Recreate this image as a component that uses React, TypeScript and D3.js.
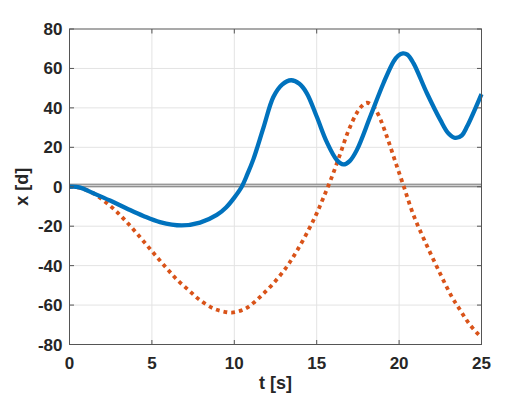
import React from "react"
import * as d3 from "d3"

const width = 532
const height = 399
const margin = { top: 29, right: 50.5, bottom: 54.5, left: 69.5 }

// solid blue series, x(t)
const blueT = [0, 0.6, 1.45, 2.46, 3.47, 4.48, 5.49, 6.8, 7.92, 8.94, 9.5, 10.0, 10.45, 10.8, 11.16, 11.77, 12.37, 12.9, 13.45, 13.95, 14.4, 15.0, 15.6, 16.22, 16.62, 17.0, 17.44, 18.25, 19.05, 19.66, 19.95, 20.23, 20.5, 20.87, 21.69, 22.5, 23.0, 23.4, 23.8, 24.12, 25]
const blueV = [0, -0.3, -3.3, -7, -11, -14.8, -17.9, -19.6, -18.2, -14.3, -10.5, -5.5, 0, 6.5, 14, 30, 45.5, 51.8, 54, 52.2, 47.4, 35.6, 22.9, 13.6, 11.3, 13, 18.7, 35.6, 52.5, 63.5, 66.5, 67.6, 67, 62.7, 47.4, 33.9, 27, 24.8, 26, 30.5, 47]

// dotted orange series
const orangeT = [0, 0.6, 1.45, 2.16, 2.87, 3.47, 4.08, 4.69, 5.29, 5.9, 6.51, 7.22, 7.92, 8.73, 9.3, 9.85, 10.4, 10.86, 11.57, 12.37, 13.19, 13.8, 14.5, 15.0, 15.41, 15.92, 16.42, 16.93, 17.44, 17.75, 18.04, 18.4, 18.75, 19.26, 19.76, 20.27, 20.87, 21.58, 22.39, 23.2, 23.71, 24.21, 24.82, 25]
const orangeV = [0, -0.5, -3.3, -7.6, -12.7, -17.9, -23.6, -29.6, -35.5, -41.4, -47, -52.4, -57.5, -61.7, -63.2, -63.8, -62.8, -60.9, -55.8, -49, -40.5, -32.5, -22, -13.5, -5.5, 5, 16.5, 28.5, 37.5, 41, 42.6, 41, 36.4, 25.4, 13, 0.5, -14.3, -27.9, -42.3, -55.8, -62.6, -69, -74.9, -76]

const xTicks = [0, 5, 10, 15, 20, 25]
const yTicks = [-80, -60, -40, -20, 0, 20, 40, 60, 80]
const refLines = [0, 1.3]

const font = "'Liberation Sans', Arial, Helvetica, sans-serif"

const App = () => {
  const x = d3.scaleLinear().domain([0, 25]).range([margin.left, width - margin.right])
  const y = d3.scaleLinear().domain([-80, 80]).range([height - margin.bottom, margin.top])

  const line = d3
    .line<[number, number]>()
    .x((d) => x(d[0]))
    .y((d) => y(d[1]))
    .curve(d3.curveCatmullRom.alpha(0.5))

  const blue = d3.zip(blueT, blueV) as [number, number][]
  const orange = d3.zip(orangeT, orangeV) as [number, number][]

  const x0 = x.range()[0]
  const x1 = x.range()[1]
  const y0 = y.range()[0]
  const y1 = y.range()[1]
  const tick = 4.5

  return (
    <svg
      width={width}
      height={height}
      style={{ position: "absolute", left: 0, top: 0, background: "#fff" }}
    >
      {/* grid */}
      {xTicks.slice(1, -1).map((t) => (
        <line key={"gx" + t} x1={x(t)} x2={x(t)} y1={y0} y2={y1} stroke="#e3e3e3" strokeWidth={1} />
      ))}
      {yTicks.slice(1, -1).map((t) => (
        <line key={"gy" + t} x1={x0} x2={x1} y1={y(t)} y2={y(t)} stroke="#e3e3e3" strokeWidth={1} />
      ))}
      <rect x={x0} width={x1 - x0} y={y(refLines[1])} height={y(refLines[0]) - y(refLines[1])} fill="#cfcfcf" />
      {refLines.map((r) => (
        <line key={"r" + r} x1={x0} x2={x1} y1={y(r)} y2={y(r)} stroke="#7a7a7a" strokeWidth={1} />
      ))}

      <path d={line(orange) ?? ""} fill="none" stroke="#D95319" strokeWidth={3.8} strokeDasharray="3.8 4" />
      <path d={line(blue) ?? ""} fill="none" stroke="#0072BD" strokeWidth={4.3} strokeLinejoin="round" />

      {/* box and ticks */}
      <rect x={x0} y={y1} width={x1 - x0} height={y0 - y1} fill="none" stroke="#555" strokeWidth={1} />
      {xTicks.map((t) => (
        <g key={"tx" + t}>
          <line x1={x(t)} x2={x(t)} y1={y0} y2={y0 - tick} stroke="#555" />
          <line x1={x(t)} x2={x(t)} y1={y1} y2={y1 + tick} stroke="#555" />
          <text x={x(t)} y={y0 + 24} textAnchor="middle" fontFamily={font} fontWeight="bold" fontSize={17} fill="#262626">
            {t}
          </text>
        </g>
      ))}
      {yTicks.map((t) => (
        <g key={"ty" + t}>
          <line x1={x0} x2={x0 + tick} y1={y(t)} y2={y(t)} stroke="#555" />
          <line x1={x1} x2={x1 - tick} y1={y(t)} y2={y(t)} stroke="#555" />
          <text x={x0 - 7} y={y(t) + 6} textAnchor="end" fontFamily={font} fontWeight="bold" fontSize={17} fill="#262626">
            {t}
          </text>
        </g>
      ))}

      <text x={(x0 + x1) / 2} y={389} textAnchor="middle" fontFamily={font} fontWeight="bold" fontSize={18} fill="#262626">
        t [s]
      </text>
      <text
        transform={`translate(28, ${(y0 + y1) / 2}) rotate(-90)`}
        textAnchor="middle"
        fontFamily={font}
        fontWeight="bold"
        fontSize={18}
        fill="#262626"
      >
        x [d]
      </text>
    </svg>
  )
}

export default App
